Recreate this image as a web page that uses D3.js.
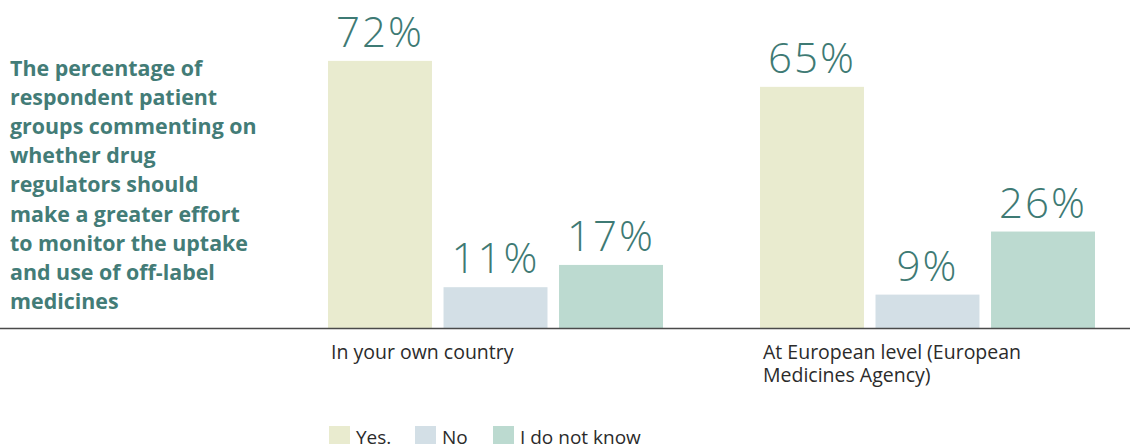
<!DOCTYPE html>
<html>
<head>
<meta charset="utf-8">
<script src="https://cdn.jsdelivr.net/npm/d3@7"></script>
<style>
  html, body { margin: 0; padding: 0; background: #fff; }
  svg { display: block; }
</style>
</head>
<body>
<svg id="chart" width="1130" height="444"></svg>
<script>
// Survey answers per question scope
const categories = ["In your own country", "At European level (European Medicines Agency)"];
const categoryLines = [["In your own country"], ["At European level (European", "Medicines Agency)"]];
const series = ["Yes.", "No", "I do not know"];
const yesValues = [72, 65];
const noValues = [11, 9];
const dontKnowValues = [17, 26];
const titleLines = [
  "The percentage of",
  "respondent patient",
  "groups commenting on",
  "whether drug",
  "regulators should",
  "make a greater effort",
  "to monitor the uptake",
  "and use of off-label",
  "medicines"
];

const colors = ["#e9ebcf", "#d3dfe6", "#bcdad0"];
const teal = "#3e7a74";
const valuesBySeries = [yesValues, noValues, dontKnowValues];

const data = categories.map((c, i) => ({
  category: c,
  values: series.map((s, j) => ({ series: s, value: valuesBySeries[j][i] }))
}));

const svg = d3.select("#chart");
const font = "'Open Sans', 'DejaVu Sans', sans-serif";

const x0 = d3.scaleBand().domain(categories).range([328, 1095]).paddingInner(0.2245).paddingOuter(0);
const x1 = d3.scaleBand().domain(series).range([0, x0.bandwidth()]).paddingInner(0.1).paddingOuter(0);
const y = d3.scaleLinear().domain([0, 100]).range([328, -43]);
const color = d3.scaleOrdinal().domain(series).range(colors);

// Title block on the left
const title = svg.append("text")
  .attr("x", 10)
  .attr("y", 76)
  .attr("fill", "#437c77")
  .attr("font-family", font)
  .attr("font-weight", 700)
  .attr("font-size", 21.4);
title.selectAll("tspan")
  .data(titleLines)
  .join("tspan")
  .attr("x", 10)
  .attr("dy", (d, i) => i === 0 ? 0 : 29.1)
  .text(d => d);

// Bars
const groups = svg.append("g").selectAll("g")
  .data(data)
  .join("g")
  .attr("transform", d => `translate(${x0(d.category)},0)`);

groups.selectAll("rect")
  .data(d => d.values)
  .join("rect")
  .attr("x", d => x1(d.series))
  .attr("y", d => y(d.value))
  .attr("width", x1.bandwidth())
  .attr("height", d => y(0) - y(d.value))
  .attr("fill", d => color(d.series));

groups.selectAll("text.value")
  .data(d => d.values)
  .join("text")
  .attr("class", "value")
  .attr("x", d => x1(d.series) + x1.bandwidth() / 2)
  .attr("y", d => y(d.value) - 14)
  .attr("text-anchor", "middle")
  .attr("fill", teal)
  .attr("font-family", font)
  .attr("font-weight", 300)
  .attr("font-size", 42)
  .attr("letter-spacing", 2)
  .text(d => d.value + "%");

// Baseline
svg.append("line")
  .attr("x1", 0).attr("x2", 1130)
  .attr("y1", y(0) + 0.5).attr("y2", y(0) + 0.5)
  .attr("stroke", "#4a4a4a")
  .attr("stroke-width", 1.5);

// Category labels
categories.forEach((c, i) => {
  const t = svg.append("text")
    .attr("x", x0(c) + 3)
    .attr("y", 359)
    .attr("fill", "#2b2b2b")
    .attr("font-family", font)
    .attr("font-size", 19.5);
  t.selectAll("tspan")
    .data(categoryLines[i])
    .join("tspan")
    .attr("x", x0(c) + 3)
    .attr("dy", (d, k) => k === 0 ? 0 : 23)
    .text(d => d);
});

// Legend
const legendX = [329, 415, 493];
const legend = svg.append("g").selectAll("g")
  .data(series)
  .join("g")
  .attr("transform", (d, i) => `translate(${legendX[i]},426)`);
legend.append("rect")
  .attr("width", 21).attr("height", 21)
  .attr("fill", d => color(d));
legend.append("text")
  .attr("x", 27)
  .attr("y", 18)
  .attr("fill", "#2b2b2b")
  .attr("font-family", font)
  .attr("font-size", 19)
  .text(d => d);
</script>
</body>
</html>
